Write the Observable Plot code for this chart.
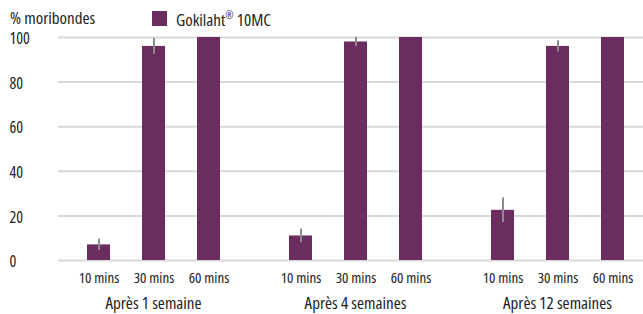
<!DOCTYPE html>
<html><head><meta charset="utf-8">
<script src="https://cdn.jsdelivr.net/npm/d3@7"></script>
<script src="https://cdn.jsdelivr.net/npm/@observablehq/plot@0.6"></script>
<style>
body{margin:0;background:#fff;}
#wrap{position:relative;width:643px;height:314px;overflow:hidden;font-family:"Open Sans",sans-serif;font-stretch:75%;color:#222;}
#chart{position:absolute;left:0;top:0;}
#chart svg text{font-stretch:75%;}
.lbl{position:absolute;font-size:17px;line-height:17px;white-space:nowrap;}
#title{left:10px;top:9px;}
#legtext{left:176px;top:11px;}
#swatch{position:absolute;left:152px;top:11px;width:15px;height:15px;background:#6b2d5f;}
sup{font-size:10px;line-height:0;vertical-align:7px;}
</style></head><body>
<div id="wrap"><div id="chart"></div><div id="title" class="lbl">% moribondes</div><div id="swatch"></div><div id="legtext" class="lbl">Gokilaht<sup>®</sup> 10MC</div></div>
<script>
const groups = ["Après 1 semaine", "Après 4 semaines", "Après 12 semaines"];
const times = ["10 mins", "30 mins", "60 mins"];
const values1 = [7, 96, 100];
const values4 = [11, 98, 100];
const values12 = [22.5, 96, 100];
const errors1 = [2.5, 3.5, 0];
const errors4 = [3, 2, 0];
const errors12 = [5.5, 2.5, 0];
const yTicks = [0, 20, 40, 60, 80, 100];

const valuesByGroup = [values1, values4, values12];
const errorsByGroup = [errors1, errors4, errors12];
const data = groups.flatMap((g, gi) => times.map((t, ti) => ({group: g, time: t, value: valuesByGroup[gi][ti], error: errorsByGroup[gi][ti]})));

const plot = Plot.plot({
  width: 643, height: 314,
  marginTop: 37, marginBottom: 54, marginLeft: 69, marginRight: 1,
  style: {fontFamily: '"Open Sans", sans-serif', fontSize: "15px", color: "#222", background: "transparent"},
  fx: {domain: groups, paddingInner: 0.166, paddingOuter: 0, label: null, axis: null},
  x: {domain: times, paddingInner: 0.59, paddingOuter: 0.3, label: null, axis: null},
  y: {domain: [0, 100], axis: null},
  marks: [
    Plot.ruleY(yTicks, {stroke: "#d9d9d9", strokeWidth: 2, insetLeft: -11, insetRight: -24}),
    Plot.barY(data, {fx: "group", x: "time", y: "value", fill: "#6b2d5f"}),
    Plot.ruleX(data.filter(d => d.error > 0), {fx: "group", x: "time", y1: d => d.value - d.error, y2: d => d.value + d.error, stroke: "#8c8c8c", strokeWidth: 2}),
    Plot.axisY(yTicks, {anchor: "left", tickSize: 0, tickPadding: 0, textAnchor: "start", dx: -60, dy: 1.5, fontSize: 16, label: null}),
    Plot.axisX({anchor: "bottom", tickSize: 0, tickPadding: 12, fontSize: 15, label: null}),
    Plot.axisFx({anchor: "bottom", tickSize: 0, tickPadding: 36, fontSize: 17, label: null})
  ]
});
document.getElementById("chart").appendChild(plot);
</script>
</body></html>
